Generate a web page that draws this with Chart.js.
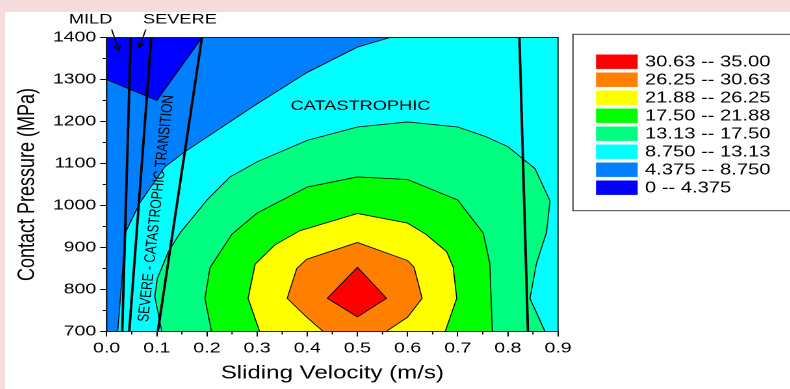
<!DOCTYPE html>
<html><head><meta charset="utf-8">
<script src="https://cdn.jsdelivr.net/npm/chart.js@4.4.1/dist/chart.umd.min.js"></script>
<style>
html,body{margin:0;padding:0;background:#f6dcdc;width:790px;height:389px;overflow:hidden}
#wrap{position:absolute;left:5px;top:12px;width:785px;height:377px;background:#fff;overflow:hidden}
#c{position:absolute;left:0;top:0;transform:scaleX(1.3);transform-origin:0 0}
</style></head><body>
<div id="wrap"><canvas id="c" width="604" height="377" style="width:604px;height:377px"></canvas></div>
<script>
// ---------- data ----------
const xTicks = [0, 0.1, 0.2, 0.3, 0.4, 0.5, 0.6, 0.7, 0.8, 0.9];
const yTicks = [700, 800, 900, 1000, 1100, 1200, 1300, 1400];
const levels = [0, 4.375, 8.75, 13.13, 17.5, 21.88, 26.25, 30.63, 35];
const bandLabels = ['0 -- 4.375', '4.375 -- 8.750', '8.750 -- 13.13', '13.13 -- 17.50',
                    '17.50 -- 21.88', '21.88 -- 26.25', '26.25 -- 30.63', '30.63 -- 35.00'];

// contour boundaries (velocity m/s, pressure MPa)
const below4375 = [[0,1400],[0,1300],[0.1,1250],[0.19,1400]];
const below875 = [[0.022,700],[0.038,937],[0.066,1006],[0.116,1092],[0.156,1128],[0.3,1242],
                  [0.4,1317],[0.5,1377],[0.565,1400],[0,1400],[0,700]];
const above1313 = [[0.11,700],[0.096,783],[0.101,826],[0.123,890],[0.146,934],[0.2,1013],
                   [0.246,1068],[0.3,1104],[0.4,1155],[0.5,1187],[0.6,1199],[0.7,1187],
                   [0.754,1165],[0.8,1140],[0.854,1088],[0.884,1011],[0.877,936],[0.857,862],
                   [0.844,779],[0.874,700]];
const above175 = [[0.209,700],[0.196,779],[0.206,852],[0.229,894],[0.25,932],[0.3,982],
                  [0.4,1044],[0.5,1068],[0.6,1062],[0.7,1013],[0.751,934],[0.764,862],[0.769,700]];
const above2188 = [[0.305,700],[0.282,779],[0.296,860],[0.335,906],[0.385,940],[0.5,981],
                   [0.6,958],[0.636,932],[0.678,890],[0.691,853],[0.698,779],[0.675,700]];
const above2625 = [[0.432,700],[0.399,734],[0.36,779],[0.379,850],[0.399,872],[0.5,912],
                   [0.6,869],[0.613,853],[0.629,779],[0.6,734],[0.557,700]];
const above3063 = [[0.5,853],[0.558,779],[0.5,735],[0.44,779],[0.5,853]];

// wear regime boundaries
const mildSevere1 = [[0.031,700],[0.048,1400]];
const mildSevere2 = [[0.045,700],[0.089,1400]];
const severeCatastrophic = [[0.102,700],[0.19,1400]];
const rightBoundary = [[0.84,700],[0.823,1400]];

// ---------- styles ----------
const bandColors = ['#0000ff','#0080ff','#00ffff','#00ff80','#00ff00','#ffff00','#ff8000','#ff0000'];
const FONT = '"Liberation Sans", Arial, sans-serif';
const pts = a => a.map(p => ({x: p[0], y: p[1]}));

function region(arr, band) {
  return {data: pts(arr), showLine: true, fill: 'shape', backgroundColor: bandColors[band],
          borderColor: '#000', borderWidth: 0.8, pointRadius: 0, tension: 0};
}
function regime(arr) {
  return {data: pts(arr), showLine: true, fill: false, borderColor: '#000', borderWidth: 1.9,
          pointRadius: 0, tension: 0};
}

const datasets = [
  regime(mildSevere1), regime(mildSevere2), regime(severeCatastrophic), regime(rightBoundary),
  region(above3063, 7), region(above2625, 6), region(above2188, 5), region(above175, 4),
  region(above1313, 3), region(below4375, 0), region(below875, 1)
];

const overlay = {
  id: 'overlay',
  beforeDatasetsDraw(chart) {
    const {ctx, chartArea: a} = chart;
    ctx.save();
    ctx.fillStyle = bandColors[2];
    ctx.fillRect(a.left, a.top, a.right - a.left, a.bottom - a.top);
    ctx.restore();
  },
  afterDatasetsDraw(chart) {
    const {ctx, scales: {x, y}} = chart;
    ctx.save();
    ctx.fillStyle = '#000';
    ctx.textAlign = 'center';
    ctx.textBaseline = 'middle';
    ctx.font = '14px ' + FONT;
    ctx.fillText('MILD', x.getPixelForValue(-0.032), y.getPixelForValue(1442));
    ctx.fillText('SEVERE', x.getPixelForValue(0.146), y.getPixelForValue(1442));
    ctx.fillText('CATASTROPHIC', x.getPixelForValue(0.506), y.getPixelForValue(1237));
    // rotated transition label
    ctx.save();
    ctx.translate(x.getPixelForValue(0.099), y.getPixelForValue(993));
    ctx.rotate(-Math.PI / 2 + 4.9 * Math.PI / 180);
    ctx.font = '12px ' + FONT;
    ctx.fillText('SEVERE - CATASTROPHIC TRANSITION', 0, 0);
    ctx.restore();
    // arrows
    const arrow = (x1, y1, x2, y2) => {
      const X1 = x.getPixelForValue(x1), Y1 = y.getPixelForValue(y1);
      const X2 = x.getPixelForValue(x2), Y2 = y.getPixelForValue(y2);
      const ang = Math.atan2(Y2 - Y1, X2 - X1);
      ctx.beginPath();
      ctx.moveTo(X1, Y1); ctx.lineTo(X2, Y2);
      const h = 6, w = 0.45;
      ctx.moveTo(X2 - h * Math.cos(ang - w), Y2 - h * Math.sin(ang - w));
      ctx.lineTo(X2, Y2);
      ctx.lineTo(X2 - h * Math.cos(ang + w), Y2 - h * Math.sin(ang + w));
      ctx.stroke();
    };
    ctx.strokeStyle = '#000';
    ctx.lineWidth = 1;
    arrow(0.010, 1419, 0.0245, 1369);
    arrow(0.078, 1419, 0.065, 1376);
    ctx.restore();
  },
  afterDraw(chart) {
    const {ctx, chartArea: a, scales: {x, y}} = chart;
    ctx.save();
    // frame
    ctx.strokeStyle = '#222';
    ctx.lineWidth = 1;
    ctx.strokeRect(a.left, a.top, a.right - a.left, a.bottom - a.top);
    // minor ticks
    ctx.strokeStyle = '#000';
    ctx.beginPath();
    for (let i = 0; i < xTicks.length - 1; i++) {
      const px = x.getPixelForValue((xTicks[i] + xTicks[i + 1]) / 2);
      ctx.moveTo(px, a.bottom); ctx.lineTo(px, a.bottom + 3);
    }
    for (let i = 0; i < yTicks.length - 1; i++) {
      const py = y.getPixelForValue((yTicks[i] + yTicks[i + 1]) / 2);
      ctx.moveTo(a.left, py); ctx.lineTo(a.left - 3, py);
    }
    ctx.stroke();
    // legend
    const L = 436.9, T = 22.3, B = 198.7;
    ctx.strokeStyle = '#444';
    ctx.strokeRect(L, T, 200, B - T);
    ctx.font = '15.5px ' + FONT;
    ctx.textAlign = 'left';
    ctx.textBaseline = 'middle';
    ctx.fillStyle = '#000';
    for (let r = 0; r < bandLabels.length; r++) {
      const band = bandLabels.length - 1 - r;
      const cy = 49.7 + r * 18;
      ctx.fillStyle = bandColors[band];
      ctx.fillRect(454.6, cy - 7.2, 32.1, 14.4);
      ctx.fillStyle = '#000';
      ctx.fillText(bandLabels[band], 492.3, cy + 0.5);
    }
    ctx.restore();
  }
};

const tickFont = {family: FONT, size: 15};
new Chart(document.getElementById('c'), {
  type: 'scatter',
  data: {datasets},
  options: {
    responsive: false,
    devicePixelRatio: 2,
    animation: false,
    events: [],
    layout: {padding: {left: 6.9, top: 25.5, right: 178.6, bottom: 4.4}},
    plugins: {legend: {display: false}, tooltip: {enabled: false}},
    scales: {
      x: {
        type: 'linear', min: 0, max: 0.9,
        afterBuildTicks: s => { s.ticks = xTicks.map(v => ({value: v})); },
        afterFit: s => { s.height = 53.1; },
        ticks: {font: tickFont, color: '#000', padding: 3, autoSkip: false, maxRotation: 0,
                callback: v => Number(v).toFixed(1)},
        grid: {drawOnChartArea: false, drawTicks: true, tickLength: 5, tickColor: '#000'},
        border: {display: true, color: '#000'},
        title: {display: true, text: 'Sliding Velocity (m/s)', color: '#000',
                font: {family: FONT, size: 18.5}, padding: 0}
      },
      y: {
        type: 'linear', min: 700, max: 1400,
        afterBuildTicks: s => { s.ticks = yTicks.map(v => ({value: v})); },
        afterFit: s => { s.width = 71.3; },
        ticks: {font: tickFont, color: '#000', padding: 3, autoSkip: false,
                callback: v => String(v)},
        grid: {drawOnChartArea: false, drawTicks: true, tickLength: 5, tickColor: '#000'},
        border: {display: true, color: '#000'},
        title: {display: true, text: 'Contact Pressure (MPa)', color: '#000',
                font: {family: FONT, size: 18}, padding: 0}
      }
    }
  },
  plugins: [overlay]
});
</script>
</body></html>
